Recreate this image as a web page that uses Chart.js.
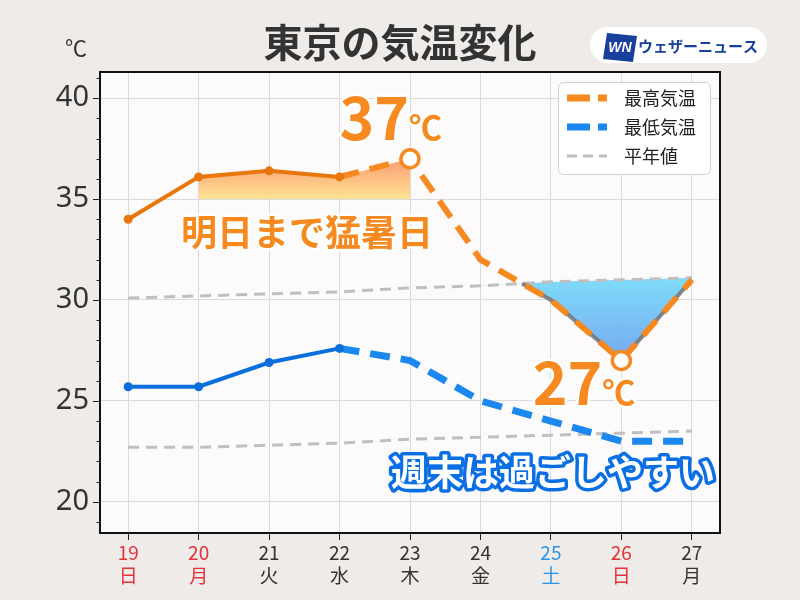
<!DOCTYPE html>
<html><head><meta charset="utf-8">
<script src="https://cdn.jsdelivr.net/npm/chart.js@4.4.1/dist/chart.umd.min.js"></script>
<style>html,body{margin:0;padding:0;background:#eeebe9;}</style>
</head><body>
<canvas id="c" width="800" height="600" style="width:800px;height:600px;display:block"></canvas>
<script>
// ---- data ----
const days = ['19','20','21','22','23','24','25','26','27'];
const weekdays = ['日','月','火','水','木','金','土','日','月'];
const dayColors = ['#e5323d','#e5323d','#333333','#333333','#333333','#333333','#2a96e8','#e5323d','#333333'];
const highs = [34.0, 36.1, 36.4, 36.1, 37.0, 32.0, 30.0, 27.0, 31.0];
const lows = [25.7, 25.7, 26.9, 27.6, 27.0, 25.0, 24.0, 23.0, 23.0];
const normalHigh = [30.1, 30.2, 30.3, 30.4, 30.6, 30.7, 30.9, 31.0, 31.1];
const normalLow = [22.7, 22.7, 22.8, 22.9, 23.1, 23.2, 23.3, 23.4, 23.5];
const yTicks = [20, 25, 30, 35, 40];
const lastObserved = 3;      // solid up to this index, forecast dashed after
const markIdx = [4, 7];      // circled points
const hotBase = 35;          // 猛暑日 threshold
const legendItems = ['最高気温', '最低気温', '平年値'];

const PAGE_BG = '#eeebe9', PLOT_BG = '#fcfafb', GRID = '#dadada';
const ORANGE_SOLID = '#e9760b', ORANGE = '#f6891f', BLUE_SOLID = '#0a6fdc', BLUE = '#1a88ee', NORM = '#bfbfbf';

const sub = (arr, from, to) => arr.map((y, i) => ({x: i, y})).filter(p => p.x >= from && p.x <= to);
const pts = arr => arr.map((y, i) => ({x: i, y}));

// crossing of forecast high below normal (for the outline)
function outlinePoints() {
  const out = [];
  for (let i = lastObserved; i < highs.length - 1; i++) {
    const d0 = highs[i] - normalHigh[i], d1 = highs[i+1] - normalHigh[i+1];
    if (d0 >= 0 && d1 < 0) {
      const t = d0 / (d0 - d1);
      out.push({x: i + t, y: highs[i] + t * (highs[i+1] - highs[i])});
      for (let j = i + 1; j < highs.length; j++) out.push({x: j, y: highs[j]});
      break;
    }
  }
  return out;
}

function hotGrad(c) {
  const ch = c.chart; if (!ch.chartArea) return 'rgba(252,180,120,0.9)';
  const y = ch.scales.y;
  const g = ch.ctx.createLinearGradient(0, y.getPixelForValue(Math.max(...highs)), 0, y.getPixelForValue(hotBase));
  g.addColorStop(0, 'rgba(250,150,108,0.95)');
  g.addColorStop(1, 'rgba(254,226,140,0.95)');
  return g;
}
function coolGrad(c) {
  const ch = c.chart; if (!ch.chartArea) return 'rgba(120,200,245,0.9)';
  const y = ch.scales.y;
  const g = ch.ctx.createLinearGradient(0, y.getPixelForValue(Math.max(...normalHigh)), 0, y.getPixelForValue(Math.min(...highs)));
  g.addColorStop(0, 'rgba(120,218,250,0.95)');
  g.addColorStop(1, 'rgba(110,164,240,0.95)');
  return g;
}

function outlined(ctx, text, x, y, font, fill, stroke, lw, align) {
  ctx.font = font; ctx.textAlign = align || 'left'; ctx.textBaseline = 'alphabetic';
  ctx.lineJoin = 'round'; ctx.lineWidth = lw; ctx.strokeStyle = stroke; ctx.strokeText(text, x, y);
  ctx.fillStyle = fill; ctx.fillText(text, x, y);
}
function roundRect(ctx, x, y, w, h, r) {
  ctx.beginPath(); ctx.moveTo(x + r, y); ctx.arcTo(x + w, y, x + w, y + h, r);
  ctx.arcTo(x + w, y + h, x, y + h, r); ctx.arcTo(x, y + h, x, y, r); ctx.arcTo(x, y, x + w, y, r); ctx.closePath();
}

const deco = {
  id: 'deco',
  beforeDraw(chart) {
    const {ctx, chartArea: a} = chart;
    ctx.save();
    ctx.fillStyle = PAGE_BG; ctx.fillRect(0, 0, chart.width, chart.height);
    ctx.fillStyle = PLOT_BG; ctx.fillRect(a.left, a.top, a.right - a.left, a.bottom - a.top);
    ctx.restore();
  },
  afterDraw(chart) {
    const {ctx, chartArea: a} = chart;
    const xs = chart.scales.x, ys = chart.scales.y;
    ctx.save();
    // y tick marks (major + minor)
    ctx.strokeStyle = '#222'; ctx.lineWidth = 1;
    for (let v = Math.ceil(ys.min); v <= Math.floor(ys.max); v++) {
      const py = Math.round(ys.getPixelForValue(v)) + 0.5;
      const len = v % 5 === 0 ? 7 : 3.5;
      ctx.beginPath(); ctx.moveTo(a.left - len, py); ctx.lineTo(a.left, py); ctx.stroke();
    }
    // frame
    ctx.lineWidth = 2; ctx.strokeStyle = '#111';
    ctx.strokeRect(a.left, a.top, a.right - a.left, a.bottom - a.top);

    // title + unit
    ctx.fillStyle = '#333'; ctx.textAlign = 'center'; ctx.textBaseline = 'middle';
    ctx.font = 'bold 39px "Noto Sans CJK JP"'; ctx.fillText('東京の気温変化', 400, 42);
    ctx.font = '22px "Noto Sans CJK JP"'; ctx.fillText('℃', 76, 48);

    // logo
    ctx.fillStyle = '#ffffff'; roundRect(ctx, 590, 27, 177, 36, 18); ctx.fill();
    ctx.fillStyle = '#173f9b';
    ctx.beginPath(); ctx.moveTo(607, 33); ctx.lineTo(637, 36); ctx.lineTo(633, 62); ctx.lineTo(603, 59); ctx.closePath(); ctx.fill();
    ctx.fillStyle = '#fff'; ctx.font = 'italic bold 14px "Liberation Sans"'; ctx.textAlign = 'center';
    ctx.fillText('WN', 620, 48);
    ctx.fillStyle = '#173f9b'; ctx.font = 'bold 15px "Noto Sans CJK JP"'; ctx.textAlign = 'left';
    ctx.fillText('ウェザーニュース', 638, 46);

    // legend
    ctx.fillStyle = '#ffffff'; ctx.strokeStyle = '#cfcfcf'; ctx.lineWidth = 1;
    roundRect(ctx, 558.5, 82.5, 152, 92, 5); ctx.fill(); ctx.stroke();
    const rows = [[ORANGE, 7, [23, 8]], [BLUE, 7, [23, 8]], [NORM, 3, [10, 6]]];
    rows.forEach((r, i) => {
      const py = 98 + i * 29;
      ctx.strokeStyle = r[0]; ctx.lineWidth = r[1]; ctx.setLineDash(r[2]); ctx.lineCap = 'butt';
      ctx.beginPath(); ctx.moveTo(567, py); ctx.lineTo(607, py); ctx.stroke();
      ctx.setLineDash([]);
      ctx.fillStyle = '#222'; ctx.font = '18px "Noto Sans CJK JP"'; ctx.textAlign = 'left'; ctx.textBaseline = 'middle';
      ctx.fillText(legendItems[i], 624, py);
    });

    // annotations
    const hi = Math.max(...highs), hiI = highs.indexOf(hi);
    const lo = Math.min(...highs), loI = highs.indexOf(lo);
    const hx = xs.getPixelForValue(hiI), hy = ys.getPixelForValue(hi);
    outlined(ctx, String(Math.round(hi)), hx - 1, hy - 19, 'bold 59px "Noto Sans CJK JP"', ORANGE, '#fff', 5, 'right');
    outlined(ctx, '℃', hx - 1, hy - 19, 'bold 33px "Noto Sans CJK JP"', ORANGE, '#fff', 5, 'left');
    const lx = xs.getPixelForValue(loI), ly = ys.getPixelForValue(lo);
    outlined(ctx, String(Math.round(lo)), lx - 19, ly + 44, 'bold 59px "Noto Sans CJK JP"', ORANGE, '#fff', 5, 'right');
    outlined(ctx, '℃', lx - 19, ly + 44, 'bold 33px "Noto Sans CJK JP"', ORANGE, '#fff', 5, 'left');
    outlined(ctx, '明日まで猛暑日', 307, 246, 'bold 36px "Noto Sans CJK JP"', ORANGE, '#fff', 5, 'center');
    outlined(ctx, '週末は過ごしやすい', 553, 486, 'bold 36px "Noto Sans CJK JP"', '#ffffff', '#0a6fe4', 7, 'center');
    ctx.restore();
  }
};

new Chart(document.getElementById('c'), {
  type: 'line',
  data: {
    datasets: [
      {data: sub(highs, 0, lastObserved), borderColor: ORANGE_SOLID, borderWidth: 4, pointRadius: 4.5,
        pointBackgroundColor: ORANGE_SOLID, pointBorderWidth: 0, order: 1},
      {data: sub(highs, lastObserved, highs.length - 1), borderColor: ORANGE, borderWidth: 6, borderDash: [20, 11],
        pointRadius: c => (c.raw && markIdx.includes(c.raw.x)) ? 9 : 0, pointBackgroundColor: '#ffffff',
        pointBorderColor: ORANGE, pointBorderWidth: 3.5, order: 1},
      {data: sub(lows, 0, lastObserved), borderColor: BLUE_SOLID, borderWidth: 4, pointRadius: 4.5,
        pointBackgroundColor: BLUE_SOLID, pointBorderWidth: 0, order: 1},
      {data: sub(lows, lastObserved, lows.length - 1), borderColor: BLUE, borderWidth: 7, borderDash: [20, 11],
        pointRadius: 0, order: 1},
      {data: outlinePoints(), borderColor: 'rgba(115,115,115,0.85)', borderWidth: 4, pointRadius: 0, order: 3},
      {data: pts(normalHigh), borderColor: NORM, borderWidth: 3, borderDash: [11, 7], pointRadius: 0, order: 4},
      {data: pts(normalLow), borderColor: NORM, borderWidth: 3, borderDash: [11, 7], pointRadius: 0, order: 4},
      {data: sub(highs, 1, 4), borderWidth: 0, pointRadius: 0, fill: {value: hotBase}, backgroundColor: hotGrad, order: 6},
      {data: sub(highs, 5, 8), borderWidth: 0, pointRadius: 0, fill: {target: 5, above: 'rgba(0,0,0,0)'},
        backgroundColor: coolGrad, order: 6}
    ]
  },
  options: {
    responsive: false, animation: false, events: [],
    layout: {padding: {left: 0, top: 72, right: 80, bottom: 0}},
    plugins: {legend: {display: false}, tooltip: {enabled: false}, title: {display: false}},
    scales: {
      x: {
        type: 'linear', min: -0.4, max: 8.4,
        afterBuildTicks: s => { s.ticks = days.map((_, i) => ({value: i})); },
        afterFit: s => { s.height = 67; },
        grid: {color: GRID, lineWidth: 1, tickLength: 7, tickColor: '#222'},
        border: {display: false},
        ticks: {
          autoSkip: false, maxRotation: 0, padding: 2,
          callback: (v, i) => [days[i], weekdays[i]],
          color: c => dayColors[c.index],
          font: {family: '"Noto Sans CJK JP"', size: 19, lineHeight: 1.17}
        }
      },
      y: {
        min: 18.45, max: 41.3,
        afterBuildTicks: s => { s.ticks = yTicks.map(v => ({value: v})); },
        afterFit: s => { s.width = 100; },
        grid: {color: GRID, lineWidth: 1, drawTicks: false},
        border: {display: false},
        ticks: {padding: 11, color: '#333', font: {family: '"Noto Sans"', size: 29}}
      }
    }
  },
  plugins: [deco]
});
</script>
</body></html>
